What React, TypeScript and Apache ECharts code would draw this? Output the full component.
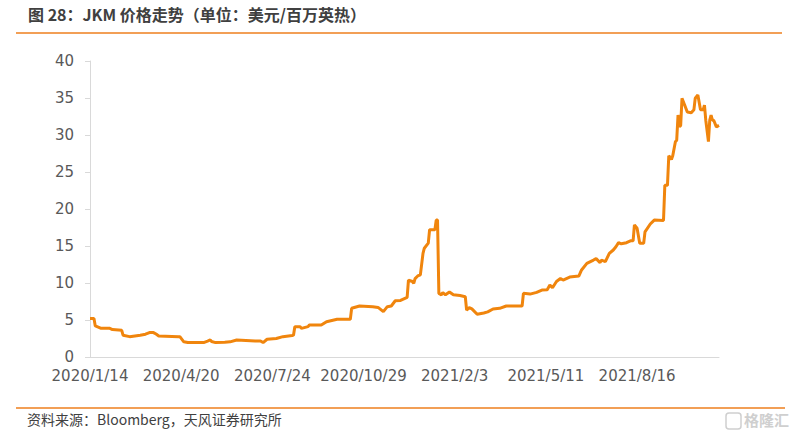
import React, { useEffect, useRef } from "react";
import * as echarts from "echarts";

// x positions are weekday (trading-day) offsets from 2020/1/14
const startDate = [2020, 0, 14];
const categoryCount = 477;
const labelInterval = 69;

const pointIdx = [
  0, 3, 4, 8, 15, 17, 24, 25, 30, 38, 42, 45, 48, 50, 52, 67, 68, 71, 74, 86,
  89, 91, 92, 95, 102, 106, 111, 125, 129, 131, 134, 141, 146, 153, 154, 155,
  159, 160, 165, 166, 175, 179, 187, 197, 198, 204, 214, 218, 222, 225, 228,
  231, 235, 240, 241, 244, 245, 246, 248, 250, 252, 253, 256, 257, 261, 262,
  263, 264, 266, 267, 269, 272, 275, 280, 284, 285, 287, 289, 293, 298, 301,
  305, 310, 315, 327, 328, 333, 338, 342, 346, 348, 350, 353, 356, 358, 363,
  370, 372, 376, 381, 383, 386, 387, 390, 393, 396, 398, 400, 402, 406, 409,
  411, 412, 414, 416, 419, 420, 424, 427, 434, 435, 437, 438, 440, 441, 443,
  444, 445, 446, 447, 448, 450, 452, 455, 457, 458, 460, 462, 464, 465, 466,
  468, 469, 470, 471, 472, 474, 476,
];
const pointVal = [
  5.2, 5.2, 4.2, 3.9, 3.87, 3.7, 3.6, 2.95, 2.75, 2.95, 3.08, 3.3, 3.3, 3.1,
  2.84, 2.75, 2.75, 2.05, 1.95, 1.95, 2.15, 2.3, 2.1, 1.95, 2.0, 2.05, 2.3,
  2.17, 2.17, 1.95, 2.4, 2.5, 2.75, 2.9, 2.95, 4.1, 4.1, 3.87, 4.1, 4.32, 4.32,
  4.77, 5.09, 5.09, 6.58, 6.89, 6.8, 6.7, 6.13, 6.8, 6.89, 7.6, 7.65, 8.06,
  10.4, 10.2, 9.95, 10.6, 10.95, 11.1, 14.0, 14.7, 15.4, 17.2, 17.2, 18.5,
  18.5, 8.6, 8.4, 8.7, 8.4, 8.78, 8.4, 8.3, 8.15, 6.35, 6.67, 6.5, 5.77, 5.95,
  6.1, 6.49, 6.58, 6.89, 6.89, 8.6, 8.5, 8.74, 9.05, 9.1, 9.73, 9.35, 10.2,
  10.6, 10.4, 10.8, 10.95, 11.76, 12.66, 13.1, 13.3, 12.75, 13.1, 12.9, 14.0,
  14.46, 14.9, 15.45, 15.3, 15.45, 15.7, 15.7, 17.84, 17.4, 15.36, 15.36, 16.9,
  17.97, 18.5, 18.45, 23.2, 23.2, 27.2, 26.7, 27.2, 29.1, 29.3, 32.7, 31.1,
  31.3, 34.96, 34.05, 33.1, 33.0, 33.4, 34.96, 35.4, 33.4, 33.4, 34.05, 32.0,
  29.1, 32.0, 32.7, 32.0, 32.0, 31.1, 31.3,
];

const yMin = 0;
const yMax = 40;
const yInterval = 5;

const titleText = "图 28：JKM 价格走势（单位：美元/百万英热）";
const sourceText = "资料来源：Bloomberg，天风证券研究所";
const watermarkText = "格隆汇";

function buildCategories(): string[] {
  const out: string[] = [];
  const d = new Date(startDate[0], startDate[1], startDate[2]);
  while (out.length < categoryCount) {
    const wd = d.getDay();
    if (wd !== 0 && wd !== 6) {
      out.push(`${d.getFullYear()}/${d.getMonth() + 1}/${d.getDate()}`);
    }
    d.setDate(d.getDate() + 1);
  }
  return out;
}

export default function App() {
  const ref = useRef<HTMLDivElement>(null);
  useEffect(() => {
    if (!ref.current) return;
    const chart = echarts.init(ref.current, undefined, { renderer: "svg" });
    const categories = buildCategories();
    const data = pointIdx.map((i, k) => [categories[i], pointVal[k]]);
    chart.setOption({
      animation: false,
      backgroundColor: "#ffffff",
      grid: { left: 90, right: 76, top: 61, bottom: 81, containLabel: false },
      xAxis: {
        type: "category",
        data: categories,
        boundaryGap: false,
        axisLine: { show: true, lineStyle: { color: "#d9d9d9", width: 1 } },
        axisTick: { show: false },
        axisLabel: {
          interval: labelInterval - 1,
          color: "#595959",
          fontFamily: "DejaVu Sans",
          fontSize: 15,
          margin: 11,
        },
        splitLine: { show: false },
      },
      yAxis: {
        type: "value",
        min: yMin,
        max: yMax,
        interval: yInterval,
        axisLine: { show: true, lineStyle: { color: "#d9d9d9", width: 1 } },
        axisTick: { show: true, length: 5, lineStyle: { color: "#d9d9d9" } },
        axisLabel: {
          color: "#595959",
          fontFamily: "DejaVu Sans",
          fontSize: 15,
          margin: 16,
        },
        splitLine: { show: false },
      },
      series: [
        {
          type: "line",
          data,
          showSymbol: false,
          symbol: "none",
          lineStyle: { color: "#F0850D", width: 3 },
          itemStyle: { color: "#F0850D" },
        },
      ],
      graphic: [
        {
          type: "text",
          left: 28,
          top: 6,
          style: {
            text: titleText,
            fill: "#404040",
            font: 'bold 16px "Noto Sans CJK SC"',
          },
        },
        {
          type: "line",
          shape: { x1: 16, y1: 33, x2: 782, y2: 33 },
          style: { stroke: "#EE7F1E", lineWidth: 1.5 },
        },
        {
          type: "line",
          shape: { x1: 16, y1: 408, x2: 785, y2: 408 },
          style: { stroke: "#EE7F1E", lineWidth: 1.5 },
        },
        {
          type: "text",
          left: 27,
          top: 412,
          style: {
            text: sourceText,
            fill: "#404040",
            font: '14px "Noto Sans CJK SC"',
          },
        },
        {
          type: "rect",
          shape: { x: 726, y: 413, width: 15, height: 16, r: 3 },
          style: { fill: "none", stroke: "#cfcfcf", lineWidth: 1.5 },
        },
        {
          type: "text",
          left: 744,
          top: 412,
          style: {
            text: watermarkText,
            fill: "#cfcfcf",
            font: 'bold 15px "Noto Sans CJK SC"',
          },
        },
      ],
    });
    return () => chart.dispose();
  }, []);
  return (
    <div
      ref={ref}
      style={{ position: "fixed", left: 0, top: 0, width: 795, height: 438 }}
    />
  );
}
